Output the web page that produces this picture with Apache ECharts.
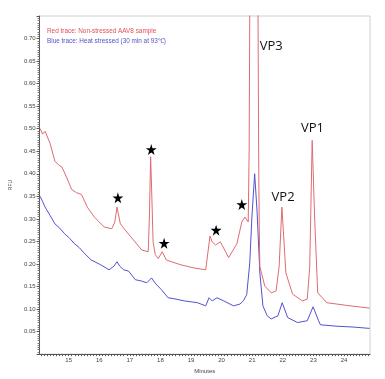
<!DOCTYPE html>
<html>
<head>
<meta charset="utf-8">
<script src="https://cdn.jsdelivr.net/npm/echarts@6/dist/echarts.min.js"></script>
<style>html,body{margin:0;padding:0;background:#fff}#c{width:385px;height:379px}</style>
</head>
<body>
<div id="c"></div>
<script>
// Red trace (non-stressed) : minutes / RFU
const redX = [14.07,14.15,14.23,14.39,14.55,14.66,14.78,14.94,15.10,15.26,15.42,15.61,15.84,16.16,16.41,16.51,16.58,16.69,16.85,17.12,17.39,17.60,17.64,17.68,17.72,17.76,17.83,17.93,18.06,18.19,18.35,18.67,19.10,19.48,19.53,19.62,19.69,19.80,19.96,20.23,20.50,20.66,20.76,20.87,20.90,20.92,21.06,21.19,21.21,21.23,21.25,21.41,21.62,21.78,21.88,21.97,22.04,22.10,22.32,22.64,22.80,22.88,22.96,23.04,23.14,23.44,24.09,24.84];
const redY = [0.500,0.488,0.494,0.468,0.428,0.420,0.415,0.391,0.365,0.358,0.354,0.326,0.304,0.282,0.278,0.293,0.326,0.289,0.275,0.253,0.231,0.227,0.304,0.438,0.348,0.249,0.221,0.212,0.227,0.209,0.205,0.198,0.191,0.187,0.190,0.262,0.249,0.242,0.249,0.214,0.245,0.293,0.304,0.293,0.450,0.760,1.300,0.760,0.450,0.280,0.194,0.151,0.136,0.140,0.194,0.326,0.249,0.180,0.133,0.118,0.122,0.194,0.474,0.304,0.136,0.114,0.108,0.102];
// Blue trace (heat stressed)
const blueX = [14.07,14.15,14.23,14.39,14.55,14.70,14.87,15.03,15.19,15.35,15.51,15.73,16.05,16.32,16.48,16.58,16.67,16.80,16.96,17.18,17.39,17.55,17.71,17.82,18.03,18.25,18.51,18.78,19.21,19.48,19.59,19.69,19.85,20.07,20.39,20.60,20.71,20.82,20.92,20.99,21.08,21.16,21.25,21.35,21.49,21.62,21.84,21.98,22.16,22.48,22.80,22.99,23.17,23.23,23.74,24.30,24.84];
const blueY = [0.350,0.338,0.326,0.308,0.289,0.280,0.267,0.257,0.245,0.236,0.224,0.209,0.198,0.187,0.195,0.205,0.195,0.187,0.184,0.165,0.162,0.158,0.169,0.158,0.143,0.125,0.122,0.118,0.114,0.107,0.125,0.118,0.125,0.118,0.107,0.111,0.118,0.132,0.202,0.304,0.400,0.315,0.180,0.107,0.085,0.078,0.085,0.114,0.081,0.070,0.074,0.105,0.074,0.065,0.062,0.060,0.057];
// Annotations
const starX = [16.61,17.70,18.12,19.82,20.66];
const starY = [0.347,0.454,0.246,0.275,0.332];
const peakNames = ['VP3','VP2','VP1'];
const peakX = [21.62,22.01,22.97];
const peakY = [0.682,0.347,0.500];
const xLabels = [15,16,17,18,19,20,21,22,23,24];
const legendTexts = ['Red trace: Non-stressed AAV8 sample','Blue trace: Heat stressed (30 min at 93\u2103)'];

const zip = (xs, ys) => xs.map((x, i) => [x, ys[i]]);
const xTicks = [];
for (let i = 141; i <= 248; i++) xTicks.push(i / 10);
const starPath = 'path://M50,0 L61,35 L98,35 L68,57 L79,91 L50,70 L21,91 L32,57 L2,35 L39,35 Z';

const markStars = starX.map((x, i) => ({coord: [x, starY[i]], symbol: starPath, symbolSize: 11,
  itemStyle: {color: '#000'}, label: {show: false}}));
const markPeaks = peakNames.map((n, i) => ({coord: [peakX[i], peakY[i]], symbol: 'circle', symbolSize: 1,
  itemStyle: {color: 'rgba(0,0,0,0)'},
  label: {show: true, position: 'inside', formatter: n, color: '#111', fontSize: 13, fontFamily: 'Open Sans'}}));

const chart = echarts.init(document.getElementById('c'), null, {renderer: 'canvas'});
chart.setOption({
  animation: false,
  backgroundColor: '#fff',
  textStyle: {fontFamily: 'Liberation Sans'},
  grid: {left: 35, top: 16, right: 15, bottom: 20, show: true, borderColor: '#d0d0d0', borderWidth: 1},
  graphic: [
    {type: 'text', left: 47, top: 28, silent: true, style: {text: legendTexts[0], fill: '#e0505a', font: '6.4px "Liberation Sans"'}},
    {type: 'text', left: 47, top: 38, silent: true, style: {text: legendTexts[1], fill: '#5454c8', font: '6.4px "Liberation Sans"'}}
  ],
  xAxis: {
    type: 'value', min: 14.05, max: 24.85,
    name: 'Minutes', nameLocation: 'middle', nameGap: 12,
    nameTextStyle: {fontSize: 6, color: '#444'},
    axisLine: {show: true, lineStyle: {color: '#555', width: 1}},
    axisTick: {show: true, customValues: xTicks, length: 2, lineStyle: {color: '#555'}},
    axisLabel: {customValues: xLabels, fontSize: 6, color: '#444', margin: 3},
    splitLine: {show: false}
  },
  yAxis: {
    type: 'value', min: 0, max: 0.75, interval: 0.05,
    name: 'RFU', nameLocation: 'middle', nameGap: 24, nameRotate: 90,
    nameTextStyle: {fontSize: 5, color: '#444'},
    axisLine: {show: true, lineStyle: {color: '#555', width: 1}},
    axisTick: {show: true, length: 3, lineStyle: {color: '#555'}},
    minorTick: {show: true, splitNumber: 10, length: 2, lineStyle: {color: '#777'}},
    axisLabel: {fontSize: 6, color: '#444', margin: 4,
      formatter: v => (v < 0.001 || v > 0.745) ? '' : v.toFixed(2)},
    splitLine: {show: false}
  },
  series: [
    {name: 'Blue trace', type: 'line', data: zip(blueX, blueY), symbol: 'none',
     lineStyle: {color: '#5252d0', width: 1}, z: 2},
    {name: 'Red trace', type: 'line', data: zip(redX, redY), symbol: 'none',
     lineStyle: {color: '#e06a72', width: 1}, z: 3,
     markPoint: {silent: true, animation: false, data: markStars.concat(markPeaks)}}
  ]
});
</script>
</body>
</html>
